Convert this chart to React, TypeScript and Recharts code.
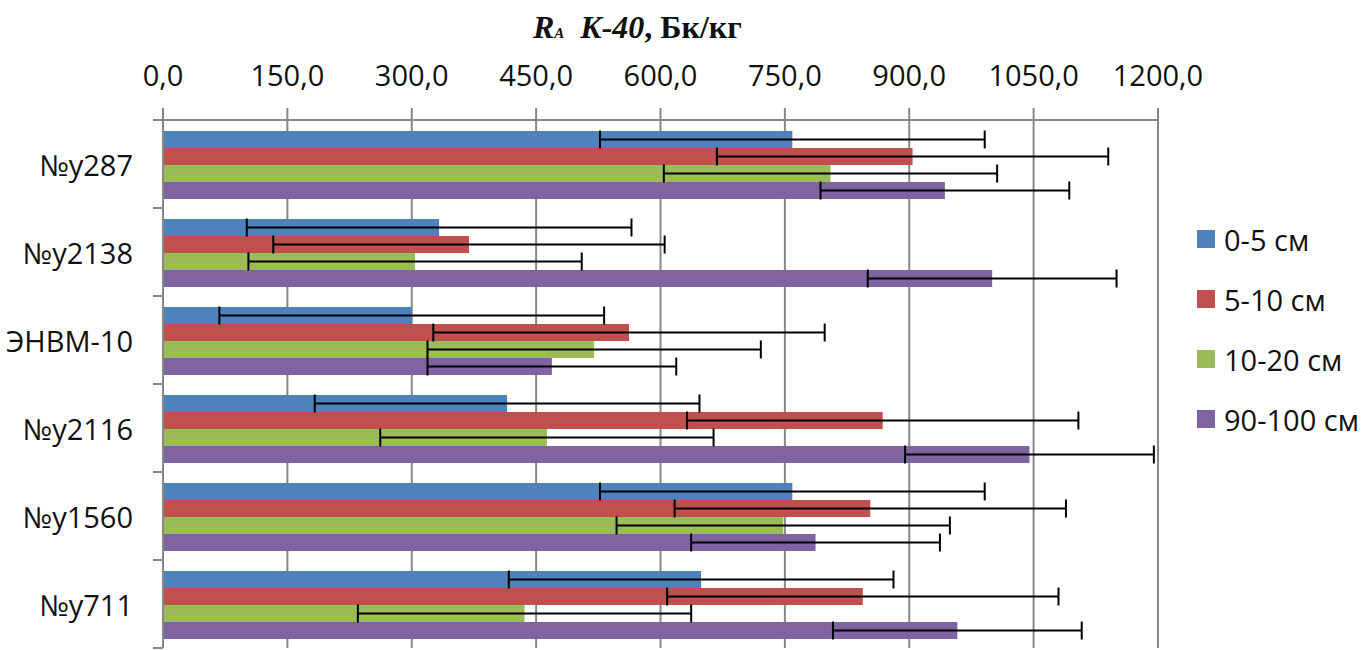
import { BarChart, Bar, XAxis, YAxis, CartesianGrid, ErrorBar, Legend } from 'recharts';

// Samples (top to bottom) and depth layers
const CATEGORIES = ['№у287', '№у2138', 'ЭНВМ-10', '№у2116', '№у1560', '№у711'];
const SERIES_NAMES = ['0-5 см', '5-10 см', '10-20 см', '90-100 см'];
const COLORS = ['#4f81bd', '#c0504d', '#9bbb59', '#8064a2'];

// K-40 activity, Bq/kg
const DEPTH_0_5 = [759, 333, 300, 415, 759, 649];
const DEPTH_5_10 = [904, 369, 562, 868, 853, 844];
const DEPTH_10_20 = [805, 304, 520, 463, 748, 436];
const DEPTH_90_100 = [943, 1000, 469, 1045, 787, 958];

// error bar half-widths
const ERR_0_5 = [232, 232, 232, 232, 232, 232];
const ERR_5_10 = [236, 236, 236, 236, 236, 236];
const ERR_10_20 = [201, 201, 201, 201, 201, 201];
const ERR_90_100 = [150, 150, 150, 150, 150, 150];

const X_TICKS = [0, 150, 300, 450, 600, 750, 900, 1050, 1200];
const X_TICK_LABELS = ['0,0', '150,0', '300,0', '450,0', '600,0', '750,0', '900,0', '1050,0', '1200,0'];

const W = 1364;
const H = 650;
const MARGIN = { top: 60, right: 206, bottom: 2, left: 0 };
const X_AXIS_H = 60;
const Y_AXIS_W = 163;
const BAND = (H - MARGIN.top - MARGIN.bottom - X_AXIS_H) / CATEGORIES.length;
const AXIS_GRAY = '#878787';
const FONT = '"Open Sans", sans-serif';

const data = CATEGORIES.map((name, i) => ({
  name,
  s0: DEPTH_0_5[i], e0: ERR_0_5[i],
  s1: DEPTH_5_10[i], e1: ERR_5_10[i],
  s2: DEPTH_10_20[i], e2: ERR_10_20[i],
  s3: DEPTH_90_100[i], e3: ERR_90_100[i],
}));

function CategoryTick({ y, payload }: any) {
  return (
    <g>
      <line x1={Y_AXIS_W - 10} x2={Y_AXIS_W} y1={y - BAND / 2} y2={y - BAND / 2} stroke={AXIS_GRAY} strokeWidth={2} />
      <line x1={Y_AXIS_W - 10} x2={Y_AXIS_W} y1={y + BAND / 2} y2={y + BAND / 2} stroke={AXIS_GRAY} strokeWidth={2} />
      <text x={133} y={y} textAnchor="end" dominantBaseline="central" fontSize={29} fontFamily={FONT} fill="#111">
        {payload.value}
      </text>
    </g>
  );
}

function DepthLegend({ payload }: any) {
  const items = [...(payload || [])].sort(
    (a: any, b: any) => SERIES_NAMES.indexOf(a.value) - SERIES_NAMES.indexOf(b.value)
  );
  return (
    <div style={{ fontFamily: FONT, fontSize: 29, color: '#111' }}>
      {items.map((p: any) => (
        <div key={p.value} style={{ display: 'flex', alignItems: 'center', height: 60, whiteSpace: 'nowrap' }}>
          <span style={{ width: 18, height: 18, background: p.color, marginRight: 9, display: 'inline-block' }} />
          {p.value}
        </div>
      ))}
    </div>
  );
}

export default function App() {
  const keys = ['s0', 's1', 's2', 's3'];
  const errs = ['e0', 'e1', 'e2', 'e3'];
  return (
    <div style={{ position: 'absolute', left: 0, top: 0, width: W, height: H, background: '#fff', overflow: 'hidden' }}>
      <div
        style={{
          position: 'absolute', left: 533, top: 9, fontFamily: '"Liberation Serif", serif',
          fontWeight: 'bold', fontSize: 32, lineHeight: '36px', color: '#111', whiteSpace: 'nowrap',
        }}
      >
        <i>R</i><i style={{ fontSize: 15 }}>A</i>&nbsp; <i>K-40</i>, Бк/кг
      </div>
      <BarChart
        width={W}
        height={H}
        data={data}
        layout="vertical"
        margin={MARGIN}
        barCategoryGap={11}
        barGap={0}
      >
        <CartesianGrid horizontal={false} stroke={AXIS_GRAY} strokeWidth={2} />
        <XAxis
          type="number"
          orientation="top"
          domain={[0, 1200]}
          ticks={X_TICKS}
          interval={0}
          tickFormatter={(v: number) => X_TICK_LABELS[X_TICKS.indexOf(v)]}
          height={X_AXIS_H}
          tickSize={12}
          tickMargin={22}
          axisLine={{ stroke: AXIS_GRAY, strokeWidth: 2 }}
          tickLine={{ stroke: AXIS_GRAY, strokeWidth: 2 }}
          tick={{ fontSize: 29, fontFamily: FONT, fill: '#111' }}
        />
        <YAxis
          type="category"
          dataKey="name"
          width={Y_AXIS_W}
          interval={0}
          tickLine={false}
          axisLine={{ stroke: AXIS_GRAY, strokeWidth: 2 }}
          tick={<CategoryTick />}
        />
        <Legend
          layout="vertical"
          align="center"
          verticalAlign="middle"
          content={<DepthLegend />}
          wrapperStyle={{ left: 1197, top: 209, width: 'auto' }}
        />
        {keys.map((k, i) => (
          <Bar key={k} dataKey={k} name={SERIES_NAMES[i]} fill={COLORS[i]} isAnimationActive={false}>
            <ErrorBar dataKey={errs[i]} direction="x" width={9} strokeWidth={2} stroke="#000" />
          </Bar>
        ))}
      </BarChart>
    </div>
  );
}
